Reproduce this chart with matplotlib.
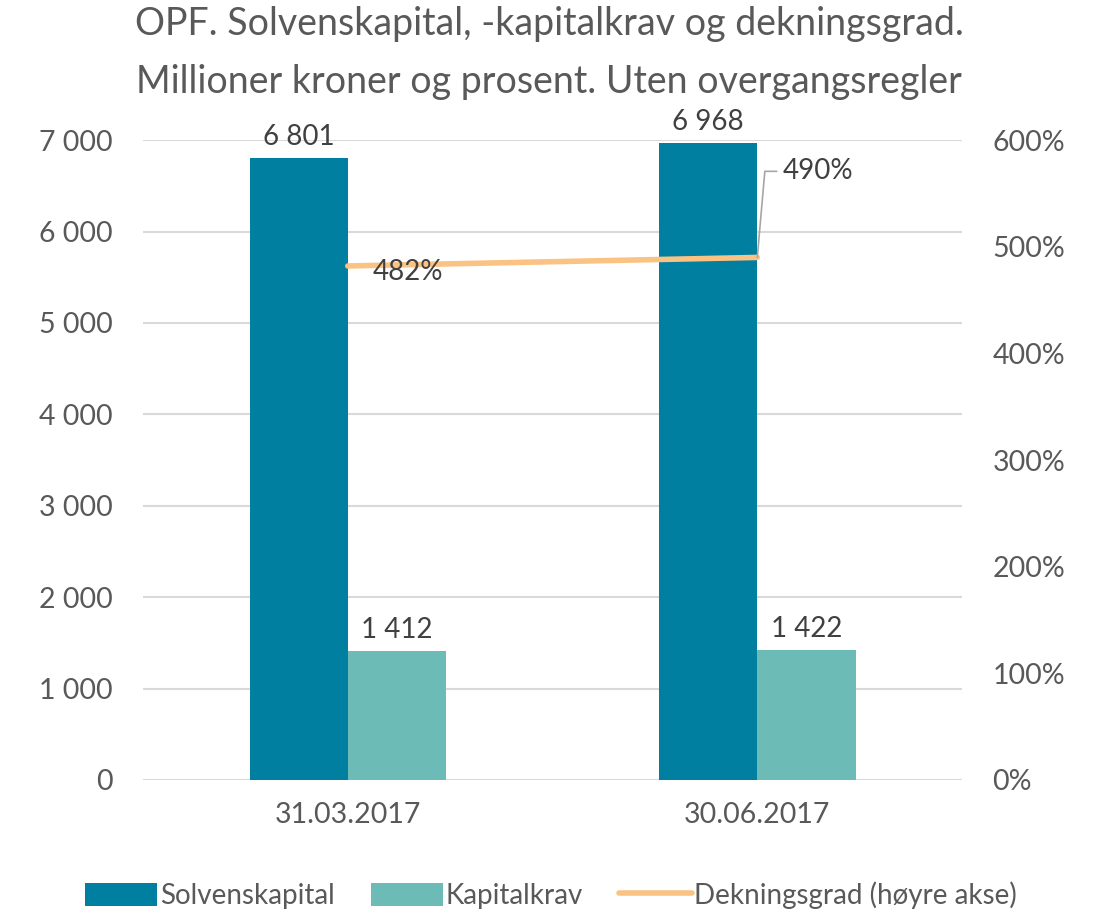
import numpy as np
import matplotlib.pyplot as plt

plt.rcParams['font.family'] = ['Lato', 'DejaVu Sans']

# Data
datoer = ['31.03.2017', '30.06.2017']
solvenskapital = [6801, 6968]
kapitalkrav = [1412, 1422]
dekningsgrad = [482, 490]

mork = '#007FA0'
lys = '#6CBBB7'
oransje = '#FAC383'
tekst = '#404040'
akse = '#595959'

fig = plt.figure(figsize=(11.02, 9.10), dpi=100)
ax = fig.add_axes([0.1298, 0.1429, 0.873 - 0.1298, 0.846 - 0.1429])

x = np.arange(len(datoer))
w = 0.24
b1 = ax.bar(x - w / 2, solvenskapital, w, color=mork, label='Solvenskapital', zorder=2)
b2 = ax.bar(x + w / 2, kapitalkrav, w, color=lys, label='Kapitalkrav', zorder=2)

def fmt(v):
    return f'{v:,}'.replace(',', ' ')

for bars in (b1, b2):
    for r in bars:
        ax.annotate(fmt(int(r.get_height())), (r.get_x() + r.get_width() / 2, r.get_height()),
                    xytext=(0, 6), textcoords='offset points', ha='center', va='bottom',
                    fontsize=20, color=tekst)

ax.set_xlim(-0.5, 1.5)
ax.set_ylim(0, 7000)
ax.set_yticks(range(0, 7001, 1000))
ax.set_yticklabels([fmt(v) for v in range(0, 7001, 1000)])
ax.set_xticks(x)
ax.set_xticklabels(datoer)
ax.grid(axis='y', color='#d9d9d9', linewidth=1.5, zorder=0)
ax.set_axisbelow(True)
for s in ax.spines.values():
    s.set_visible(False)
ax.tick_params(length=0, labelsize=20.5, labelcolor=akse)
ax.tick_params(axis='y', pad=22)
ax.tick_params(axis='x', pad=16)

ax2 = ax.twinx()
ax2.set_ylim(0, 600)
ax2.set_yticks(range(0, 601, 100))
ax2.set_yticklabels([f'{v}%' for v in range(0, 601, 100)])
for s in ax2.spines.values():
    s.set_visible(False)
ax2.tick_params(length=0, labelsize=20.5, labelcolor=akse, pad=22)
linje, = ax2.plot(x, dekningsgrad, color=oransje, linewidth=4, label='Dekningsgrad (høyre akse)',
                  solid_capstyle='round', zorder=3)

ax2.annotate(f'{dekningsgrad[0]}%', (x[0], dekningsgrad[0]), xytext=(18, -4),
             textcoords='offset points', ha='left', va='center', fontsize=20, color=tekst)
ax2.annotate(f'{dekningsgrad[1]}%', (x[1], dekningsgrad[1]), xytext=(18, 62),
             textcoords='offset points', ha='left', va='center', fontsize=20, color=tekst,
             arrowprops=dict(arrowstyle='-', color='#a6a6a6', lw=1.2,
                             connectionstyle='angle,angleA=0,angleB=85,rad=0',
                             shrinkA=2, shrinkB=0))

fig.text(0.4985, 0.993, 'OPF. Solvenskapital, -kapitalkrav og dekningsgrad.\n'
         'Millioner kroner og prosent. Uten overgangsregler',
         ha='center', va='top', fontsize=27, color=akse, linespacing=1.75)

fig.legend(handles=[b1, b2, linje], loc='lower center', bbox_to_anchor=(0.5, -0.026), ncol=3,
           frameon=False, fontsize=20, labelcolor=akse, handlelength=2.6, handleheight=0.9,
           handletextpad=0.1, columnspacing=1.3)

fig.savefig('out.png', dpi=100)
